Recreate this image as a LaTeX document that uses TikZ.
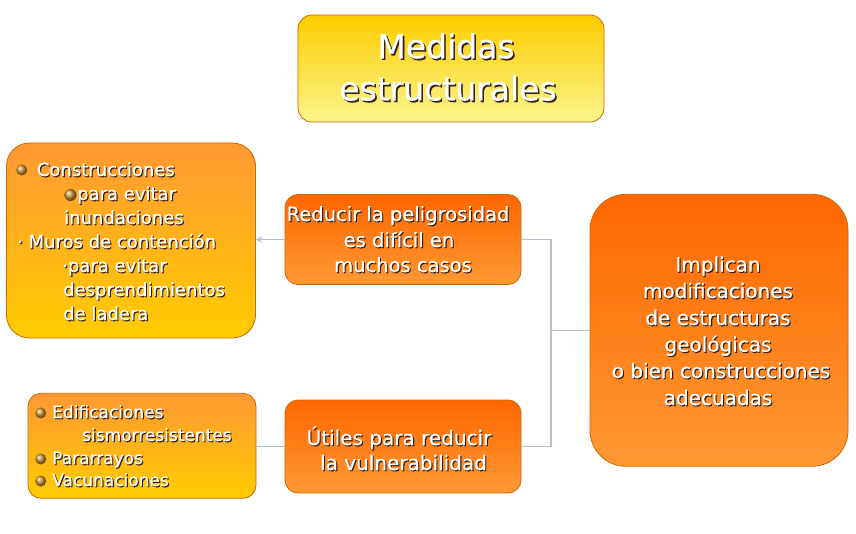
\documentclass[tikz,border=0pt]{standalone}
\usepackage{fontspec}
\setmainfont{DejaVu Sans}[FakeBold=0.5]
\newfontfamily\emb{DejaVu Sans}[FakeBold=0.5]
\usetikzlibrary{arrows.meta}
\definecolor{gold}{RGB}{255,204,0}
\definecolor{paleyel}{RGB}{250,245,140}
\definecolor{orgA}{RGB}{255,102,0}
\definecolor{orgB}{RGB}{255,153,51}
\definecolor{edgecol}{RGB}{204,102,0}
\definecolor{conncol}{RGB}{184,192,206}
\definecolor{ballcol}{RGB}{205,150,55}
\definecolor{shcol}{RGB}{50,30,15}
\newlength\shoff \setlength\shoff{1pt}
\newcommand\sh[1]{\rlap{\kern\shoff\raisebox{-\shoff}{\color{shcol}#1}}#1}
\tikzset{
  box/.style={draw=edgecol, line width=0.8pt, inner sep=0pt},
  yellowbox/.style={box, top color=gold, bottom color=paleyel},
  warmbox/.style={box, top color=orgB, bottom color=gold},
  hotbox/.style={box, top color=orgA, bottom color=orgB},
  lblc/.style={text=white, inner sep=0pt, anchor=base},
  lbll/.style={text=white, inner sep=0pt, anchor=base west},
  bul/.style={circle, inner sep=0pt, minimum size=11pt, shading=ball, ball color=ballcol},
  conn/.style={draw=conncol, line width=1.1pt},
  fA/.style={font=\emb\fontsize{33}{40}\selectfont},
  fB/.style={font=\emb\fontsize{19.5}{24}\selectfont},
  fC/.style={font=\emb\fontsize{20}{24}\selectfont},
  fD/.style={font=\emb\fontsize{18}{22}\selectfont},
  fE/.style={font=\emb\fontsize{17}{20}\selectfont},
}
\begin{document}
\begin{tikzpicture}[x=1pt,y=-1pt]
\useasboundingbox (0,0) rectangle (856,534);
% boxes
\node[yellowbox, rounded corners=14pt, minimum width=306pt, minimum height=107pt] (title) at (451,68.5) {};
\node[warmbox, rounded corners=23pt, minimum width=249pt, minimum height=195pt] (lefttop) at (131,240.5) {};
\node[hotbox, rounded corners=13pt, minimum width=236pt, minimum height=90pt] (reducir) at (403,239.5) {};
\node[hotbox, rounded corners=36pt, minimum width=258pt, minimum height=272pt] (implican) at (719,330.3) {};
\node[hotbox, rounded corners=13pt, minimum width=236pt, minimum height=93pt] (utiles) at (403,446.5) {};
\node[warmbox, rounded corners=13pt, minimum width=228pt, minimum height=105pt] (leftbot) at (142,445.8) {};
% connectors
\coordinate (j) at (551,330.3);
\draw[conn] (implican.west) -- (j);
\draw[conn] (j) |- (reducir.east);
\draw[conn] (j) |- (utiles.east);
\draw[conn, -{Stealth[length=6pt,width=6pt]}] (reducir.west) -- (reducir.west -| lefttop.east);
\draw[conn] (utiles.west) -- (utiles.west -| leftbot.east);
% title
\setlength\shoff{1.6pt}
\node[lblc, fA] (tt1) at (446,58.3) {\sh{Medidas}};
\node[lblc, fA] (tt2) at (448,100.5) {\sh{estructurales}};
\setlength\shoff{1.1pt}
% reducir
\node[lblc, fB] (r1) at (398,221) {\sh{Reducir la peligrosidad}};
\node[lblc, fB] (r2) at (399,247) {\sh{es difícil en}};
\node[lblc, fB] (r3) at (403,272) {\sh{muchos casos}};
% implican
\node[lblc, fC] (i1) at (718,271.7) {\sh{Implican}};
\node[lblc, fC] (i2) at (718,298) {\sh{modificaciones}};
\node[lblc, fC] (i3) at (718,325) {\sh{de estructuras}};
\node[lblc, fC] (i4) at (718,351.7) {\sh{geológicas}};
\node[lblc, fC] (i5) at (721,378) {\sh{o bien construcciones}};
\node[lblc, fC] (i6) at (718,405) {\sh{adecuadas}};
% utiles
\node[lblc, fC] (u1) at (399,445) {\sh{Útiles para reducir}};
\node[lblc, fC] (u2) at (403.5,470) {\sh{la vulnerabilidad}};
% left top
\node[bul] (b1) at (21.7,170) {};
\node[lbll, fD] (l1) at (36.7,176) {\sh{Construcciones}};
\node[bul, minimum size=12pt] (b2) at (70.5,195) {};
\node[lbll, fD] (l2) at (77,200) {\sh{para evitar}};
\node[lbll, fD] (l3) at (64,224) {\sh{inundaciones}};
\node[lbll, fD] (l4) at (17,248) {\sh{· Muros de contención}};
\node[lbll, fD] (l5) at (62,272) {\sh{·para evitar}};
\node[lbll, fD] (l6) at (63,296) {\sh{desprendimientos}};
\node[lbll, fD] (l7) at (63,320) {\sh{de ladera}};
% left bottom
\node[bul] (b3) at (40.7,413) {};
\node[lbll, fE] (e1) at (52,418) {\sh{Edificaciones}};
\node[lbll, fE] (e2) at (82,441) {\sh{sismorresistentes}};
\node[bul] (b4) at (40.7,459) {};
\node[lbll, fE] (e3) at (52,464) {\sh{Pararrayos}};
\node[bul] (b5) at (40.7,481) {};
\node[lbll, fE] (e4) at (52,486) {\sh{Vacunaciones}};
\end{tikzpicture}
\end{document}
